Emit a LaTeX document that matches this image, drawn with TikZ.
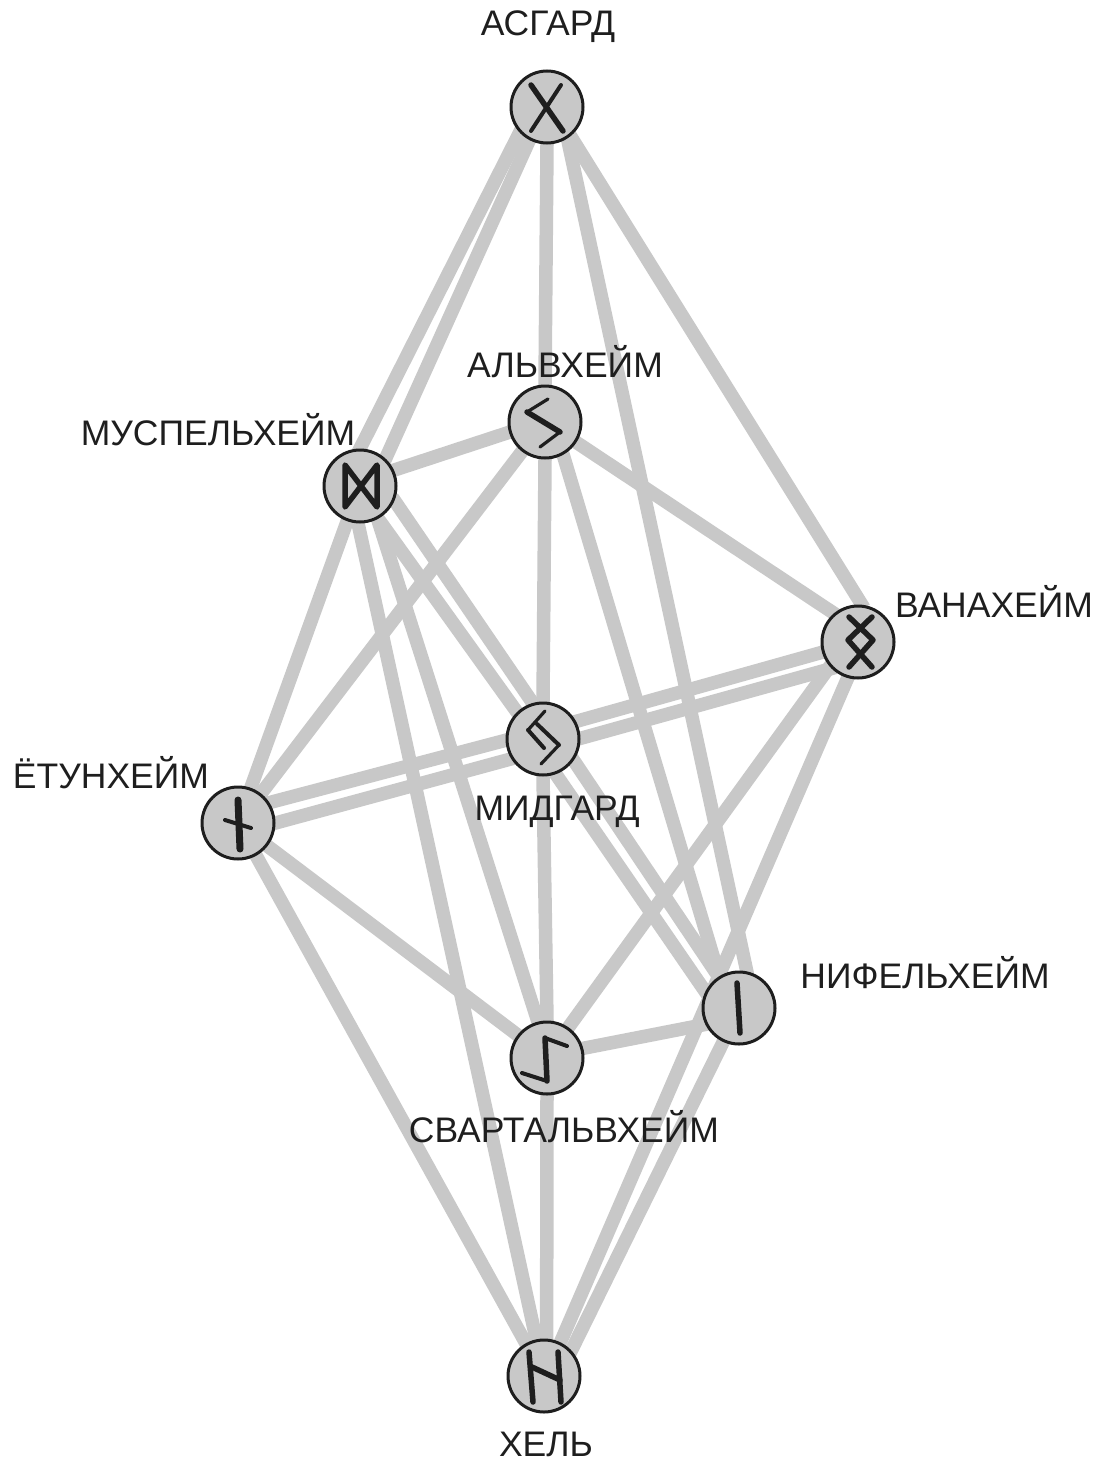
\documentclass[tikz,border=0pt]{standalone}
\usepackage{fontspec}
\setmainfont{Liberation Sans}
\usetikzlibrary{backgrounds}
\definecolor{bandgray}{HTML}{C8C8C8}
\definecolor{inkdark}{HTML}{1E1E1E}
\tikzset{
  world/.style={circle,draw=inkdark,fill=bandgray,line width=3pt,minimum size=72pt,inner sep=0pt},
  band/.style={draw=bandgray,line width=13.5pt,shorten <=-4pt,shorten >=-4pt},
  rune/.style={draw=inkdark,line width=5.5pt,line cap=round,line join=round},
  runemid/.style={draw=inkdark,line width=4pt,line cap=round,line join=round},
  runethin/.style={draw=inkdark,line width=3.2pt,line cap=round,line join=round},
  lbl/.style={text=inkdark,font=\fontsize{35.5}{36}\selectfont,inner sep=0pt,anchor=base}
}
\begin{document}
\begin{tikzpicture}[x=1pt,y=-1pt]
\useasboundingbox (0,0) rectangle (1101,1461);
% worlds
\node[world] (asgard) at (547,107) {};
\node[world] (alf) at (545,422) {};
\node[world] (musp) at (360,486) {};
\node[world] (van) at (858,642) {};
\node[world] (mid) at (543,739) {};
\node[world] (jot) at (238,823) {};
\node[world] (svart) at (547,1058) {};
\node[world] (nif) at (739,1008) {};
\node[world] (hel) at (544,1376) {};
% paths
\begin{pgfonlayer}{background}
\foreach \p/\q in {
  asgard.223/musp.90, asgard.242/musp.47, asgard.270/alf.90,
  asgard.303/nif.78, asgard.309/van.84,
  alf.196/musp.25, alf.232.6/jot.52.6, alf.270/mid.90,
  alf.299/nif.122.5, alf.327/van.130,
  musp.250/jot.70, musp.267/hel.102, musp.298/svart.104,
  musp.337/mid.106, musp.299/mid.134,
  mid.28.5/van.196, mid.1.5/van.225,
  mid.182/jot.33, mid.212.6/jot.0,
  mid.270/svart.90, mid.325/nif.123.7, mid.290/nif.154,
  jot.322.7/svart.142.7, jot.299/hel.119,
  svart.15/nif.206, svart.55/van.221, svart.270/hel.86,
  van.254/hel.64.6, nif.245/hel.43}
  {\draw[band] (\p) -- (\q);}
\end{pgfonlayer}
% runes
\begin{scope}[shift={(asgard)}]
  \draw[rune] (-16,-22) -- (16,24);
  \draw[runemid] (14,-22) -- (-16,24);
\end{scope}
\begin{scope}[shift={(alf)}]
  \draw[runethin] (3,-23) -- (-18,-10);
  \draw[rune] (-18,-10) -- (15,10);
  \draw[runethin] (15,10) -- (-5,25);
\end{scope}
\begin{scope}[shift={(musp)}]
  \draw[rune] (-15,-21) -- (-15,21) -- (17,-21) -- (17,21) -- cycle;
\end{scope}
\begin{scope}[shift={(van)}]
  \draw[rune] (-9,-25) -- (15,-2) -- (-9,25);
  \draw[rune] (14,-25) -- (-10,-2) -- (14,25);
\end{scope}
\begin{scope}[shift={(mid)}]
  \draw[runethin] (2,-28) -- (-15,-9);
  \draw[runemid] (-15,-9) -- (1,9);
  \draw[runemid] (-6,-15) -- (16,6);
  \draw[runethin] (16,6) -- (-2,25);
\end{scope}
\begin{scope}[shift={(jot)}]
  \draw[line width=7pt,draw=inkdark,line cap=round] (0,-23) -- (2,26);
  \draw[runemid] (-13,-3) -- (13,5);
\end{scope}
\begin{scope}[shift={(svart)}]
  \draw[runemid] (-25,15) -- (0,23);
  \draw[rune] (0,23) -- (-2,-20);
  \draw[runemid] (-2,-20) -- (20,-12);
\end{scope}
\begin{scope}[shift={(nif)}]
  \draw[rune] (-2,-25) -- (1,25);
\end{scope}
\begin{scope}[shift={(hel)}]
  \draw[rune] (-15,-24) -- (-11,26);
  \draw[rune] (14,-24) -- (17,26);
  \draw[rune] (-12,-9) -- (16,4);
\end{scope}
% labels
\node[lbl] (lasgard) at (548,36) {АСГАРД};
\node[lbl] (lalf) at (565,377) {АЛЬВХЕЙМ};
\node[lbl] (lmusp) at (218,445) {МУСПЕЛЬХЕЙМ};
\node[lbl] (lvan) at (994,617) {ВАНАХЕЙМ};
\node[lbl] (ljot) at (111,788) {ЁТУНХЕЙМ};
\node[lbl] (lmid) at (557,820) {МИДГАРД};
\node[lbl] (lnif) at (925,988) {НИФЕЛЬХЕЙМ};
\node[lbl] (lsvart) at (564,1142) {СВАРТАЛЬВХЕЙМ};
\node[lbl] (lhel) at (546,1456) {ХЕЛЬ};
\end{tikzpicture}
\end{document}
